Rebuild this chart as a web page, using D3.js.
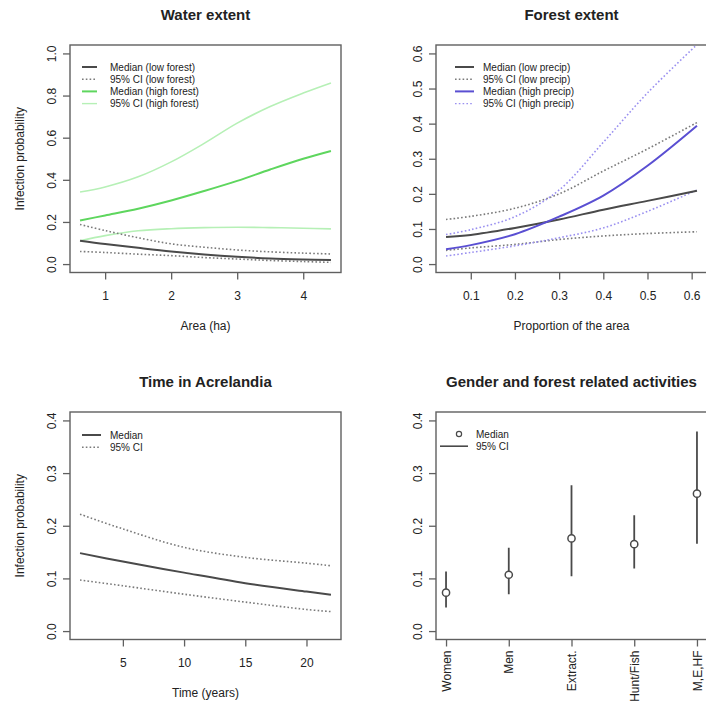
<!DOCTYPE html>
<html><head><meta charset="utf-8">
<script src="https://cdn.jsdelivr.net/npm/d3@7"></script>
<style>body{margin:0;background:#fff}text{font-family:"Liberation Sans",Arial,sans-serif;fill:#222}</style>
</head><body><svg id="c" width="706" height="711"></svg>
<script>
// ---- Data ----
const waterX = [0.62, 1, 1.5, 2, 2.5, 3, 3.5, 4, 4.42];
const waterLowMed = [0.111, 0.095, 0.077, 0.060, 0.046, 0.035, 0.027, 0.022, 0.019];
const waterLowUp  = [0.188, 0.159, 0.125, 0.096, 0.080, 0.067, 0.058, 0.052, 0.048];
const waterLowLo  = [0.060, 0.055, 0.047, 0.040, 0.031, 0.024, 0.017, 0.012, 0.008];
const waterHighMed = [0.207, 0.231, 0.263, 0.302, 0.347, 0.395, 0.449, 0.500, 0.537];
const waterHighUp  = [0.342, 0.366, 0.414, 0.485, 0.573, 0.669, 0.748, 0.812, 0.860];
const waterHighLo  = [0.111, 0.135, 0.158, 0.168, 0.173, 0.175, 0.173, 0.170, 0.167];

const forestX = [0.044, 0.1, 0.2, 0.3, 0.4, 0.5, 0.612];
const forestLowMed = [0.077, 0.083, 0.103, 0.127, 0.155, 0.180, 0.209];
const forestLowUp  = [0.127, 0.136, 0.159, 0.200, 0.265, 0.328, 0.403];
const forestLowLo  = [0.039, 0.046, 0.056, 0.070, 0.080, 0.087, 0.092];
const forestHighMed = [0.042, 0.054, 0.085, 0.135, 0.195, 0.280, 0.394];
const forestHighUp  = [0.084, 0.098, 0.135, 0.211, 0.347, 0.4875, 0.625];
const forestHighLo  = [0.023, 0.033, 0.052, 0.075, 0.103, 0.150, 0.211];

const timeX = [1.5, 5, 10, 15, 20, 22];
const timeMed = [0.148, 0.132, 0.111, 0.091, 0.075, 0.069];
const timeUp  = [0.222, 0.194, 0.159, 0.140, 0.129, 0.124];
const timeLo  = [0.097, 0.086, 0.070, 0.055, 0.041, 0.037];

const actCats = ["Women", "Men", "Extract.", "Hunt/Fish", "M,E,HF"];
const actMed = [0.073, 0.107, 0.176, 0.165, 0.261];
const actLo  = [0.045, 0.070, 0.104, 0.119, 0.166];
const actHi  = [0.113, 0.158, 0.277, 0.220, 0.379];

const waterXTicks = [1, 2, 3, 4];
const waterYTicks = [0, 0.2, 0.4, 0.6, 0.8, 1.0];
const forestXTicks = [0.1, 0.2, 0.3, 0.4, 0.5, 0.6];
const forestYTicks = [0, 0.1, 0.2, 0.3, 0.4, 0.5, 0.6];
const timeXTicks = [5, 10, 15, 20];
const smallYTicks = [0, 0.1, 0.2, 0.3, 0.4];

// ---- Styles ----
const GRAY = "#4a4a4a", GRAYCI = "#7a7a7a";
const GREEN = "#5ed65e", GREENCI = "#b6f0b6";
const BLUE = "#5a4fd2", BLUECI = "#9a90f0";
const AXIS = "#606060";

const svg = d3.select("#c");
const PW = 366, PH = 367;
const BL = 70, BR = 341, BT = 45, BB = 272.5;

function pad(d){ const r = d[1]-d[0]; return [d[0]-0.04*r, d[1]+0.04*r]; }

function panel(col, row, cfg){
  const g = svg.append("g").attr("transform", `translate(${col*PW},${row*PH})`);
  const x = d3.scaleLinear().domain(pad(cfg.xdom)).range([BL, BR]);
  const y = d3.scaleLinear().domain(pad(cfg.ydom)).range([BB, BT]);
  const id = "clip" + col + row;
  g.append("clipPath").attr("id", id).append("rect")
    .attr("x", BL).attr("y", BT).attr("width", BR-BL).attr("height", BB-BT);
  // title
  g.append("text").attr("x", (BL+BR)/2).attr("y", 20).attr("text-anchor", "middle")
    .style("font-weight", "bold").style("font-size", "15px").text(cfg.title);
  // y axis
  const ya = g.append("g").attr("transform", `translate(${BL},0)`)
    .call(d3.axisLeft(y).tickValues(cfg.yticks).tickSize(7).tickFormat(d3.format(".1f")));
  ya.select(".domain").remove();
  ya.selectAll(".tick line").attr("stroke", AXIS).attr("stroke-width", 1.3);
  ya.selectAll(".tick text").attr("transform", "rotate(-90)").attr("x", 0).attr("y", -14)
    .attr("dy", "0").attr("text-anchor", "middle").style("font-size", "12px").attr("fill", "#333");
  // x axis
  const xa = g.append("g").attr("transform", `translate(0,${BB})`);
  if (cfg.cats) {
    xa.call(d3.axisBottom(x).tickValues(cfg.cats.map((c,i)=>i+1)).tickSize(7).tickFormat((d)=>cfg.cats[d-1]));
    xa.selectAll(".tick text").attr("transform", "rotate(-90)").attr("x", -11).attr("y", 0)
      .attr("dy", "0.35em").attr("text-anchor", "end").style("font-size", "12px").attr("fill", "#333");
  } else {
    xa.call(d3.axisBottom(x).tickValues(cfg.xticks).tickSize(7).tickFormat(cfg.xfmt));
    xa.selectAll(".tick text").attr("y", 19).style("font-size", "12px").attr("fill", "#333");
  }
  xa.select(".domain").remove();
  xa.selectAll(".tick line").attr("stroke", AXIS).attr("stroke-width", 1.3);
  g.selectAll(".tick text").style("font-family", "Liberation Sans, Arial");
  // box
  g.append("rect").attr("x", BL).attr("y", BT).attr("width", BR-BL).attr("height", BB-BT)
    .attr("fill", "none").attr("stroke", AXIS).attr("stroke-width", 1.4);
  // labels
  if (cfg.xlab) g.append("text").attr("x", (BL+BR)/2).attr("y", 330).attr("text-anchor", "middle")
    .style("font-size", "12px").attr("fill", "#333").text(cfg.xlab);
  if (cfg.ylab) g.append("text").attr("transform", `translate(24,${(BT+BB)/2}) rotate(-90)`)
    .attr("text-anchor", "middle").style("font-size", "12px").attr("fill", "#333").text(cfg.ylab);
  const plot = g.append("g").attr("clip-path", `url(#${id})`);
  return {g, x, y, plot};
}

function drawLine(p, xs, ys, color, dotted, w){
  const line = d3.line().x((d,i)=>p.x(xs[i])).y(d=>p.y(d)).curve(d3.curveCatmullRom.alpha(0.5));
  p.plot.append("path").attr("d", line(ys)).attr("fill", "none").attr("stroke", color)
    .attr("stroke-width", w).attr("stroke-dasharray", dotted ? "1.6,2.2" : null);
}

function legend(p, items, x0, y0){
  items.forEach((it, i) => {
    const yy = y0 + i*12.2;
    if (it.circle) {
      p.g.append("circle").attr("cx", x0+23).attr("cy", yy).attr("r", 2.6)
        .attr("fill", "none").attr("stroke", it.color).attr("stroke-width", 1.2);
    } else {
      p.g.append("line").attr("x1", x0+it.lx0).attr("x2", x0+it.lx1).attr("y1", yy).attr("y2", yy)
        .attr("stroke", it.color).attr("stroke-width", it.w)
        .attr("stroke-dasharray", it.dotted ? "1.6,2.2" : null);
    }
    p.g.append("text").attr("x", x0 + it.tx).attr("y", yy).attr("dy", "0.35em")
      .style("font-size", "10px").attr("fill", "#333").text(it.label);
  });
}

// Panel 1: Water extent
{
  const p = panel(0, 0, {title: "Water extent", xdom: [0.62, 4.42], ydom: [0, 1],
    xticks: waterXTicks, yticks: waterYTicks, xfmt: d3.format("d"),
    xlab: "Area (ha)", ylab: "Infection probability"});
  drawLine(p, waterX, waterHighUp, GREENCI, false, 1.6);
  drawLine(p, waterX, waterHighLo, GREENCI, false, 1.6);
  drawLine(p, waterX, waterHighMed, GREEN, false, 2);
  drawLine(p, waterX, waterLowUp, GRAYCI, true, 1.6);
  drawLine(p, waterX, waterLowLo, GRAYCI, true, 1.6);
  drawLine(p, waterX, waterLowMed, GRAY, false, 2);
  legend(p, [
    {label: "Median (low forest)", color: GRAY, w: 2, lx0: 12, lx1: 27, tx: 40},
    {label: "95% CI (low forest)", color: GRAYCI, w: 1.4, dotted: true, lx0: 12, lx1: 27, tx: 40},
    {label: "Median (high forest)", color: GREEN, w: 2, lx0: 12, lx1: 27, tx: 40},
    {label: "95% CI (high forest)", color: GREENCI, w: 1.4, lx0: 12, lx1: 27, tx: 40}
  ], BL, 67);
}

// Panel 2: Forest extent
{
  const p = panel(1, 0, {title: "Forest extent", xdom: [0.044, 0.612], ydom: [0, 0.6],
    xticks: forestXTicks, yticks: forestYTicks, xfmt: d3.format(".1f"),
    xlab: "Proportion of the area"});
  drawLine(p, forestX, forestLowUp, GRAYCI, true, 1.6);
  drawLine(p, forestX, forestLowLo, GRAYCI, true, 1.6);
  drawLine(p, forestX, forestHighUp, BLUECI, true, 1.6);
  drawLine(p, forestX, forestHighLo, BLUECI, true, 1.6);
  drawLine(p, forestX, forestLowMed, GRAY, false, 2);
  drawLine(p, forestX, forestHighMed, BLUE, false, 2);
  legend(p, [
    {label: "Median (low precip)", color: GRAY, w: 2, lx0: 19, lx1: 38, tx: 47},
    {label: "95% CI (low precip)", color: GRAYCI, w: 1.4, dotted: true, lx0: 19, lx1: 38, tx: 47},
    {label: "Median (high precip)", color: BLUE, w: 2, lx0: 19, lx1: 38, tx: 47},
    {label: "95% CI (high precip)", color: BLUECI, w: 1.4, dotted: true, lx0: 19, lx1: 38, tx: 47}
  ], BL, 67);
}

// Panel 3: Time in Acrelandia
{
  const p = panel(0, 1, {title: "Time in Acrelandia", xdom: [1.5, 22], ydom: [0, 0.4],
    xticks: timeXTicks, yticks: smallYTicks, xfmt: d3.format("d"),
    xlab: "Time (years)", ylab: "Infection probability"});
  drawLine(p, timeX, timeUp, GRAYCI, true, 1.6);
  drawLine(p, timeX, timeLo, GRAYCI, true, 1.6);
  drawLine(p, timeX, timeMed, GRAY, false, 2);
  legend(p, [
    {label: "Median", color: GRAY, w: 2, lx0: 12, lx1: 31, tx: 40},
    {label: "95% CI", color: GRAYCI, w: 1.4, dotted: true, lx0: 12, lx1: 31, tx: 40}
  ], BL, 68);
}

// Panel 4: Gender and forest related activities
{
  const p = panel(1, 1, {title: "Gender and forest related activities", xdom: [1, 5], ydom: [0, 0.4],
    cats: actCats, yticks: smallYTicks});
  actCats.forEach((c, i) => {
    p.plot.append("line").attr("x1", p.x(i+1)).attr("x2", p.x(i+1))
      .attr("y1", p.y(actLo[i])).attr("y2", p.y(actHi[i]))
      .attr("stroke", GRAY).attr("stroke-width", 1.8);
    p.plot.append("circle").attr("cx", p.x(i+1)).attr("cy", p.y(actMed[i])).attr("r", 3.6)
      .attr("fill", "#fff").attr("stroke", GRAY).attr("stroke-width", 1.5);
  });
  legend(p, [
    {label: "Median", color: GRAY, circle: true, tx: 40},
    {label: "95% CI", color: GRAY, w: 1.6, lx0: 4, lx1: 32, tx: 40}
  ], BL, 67);
}
</script></body></html>
